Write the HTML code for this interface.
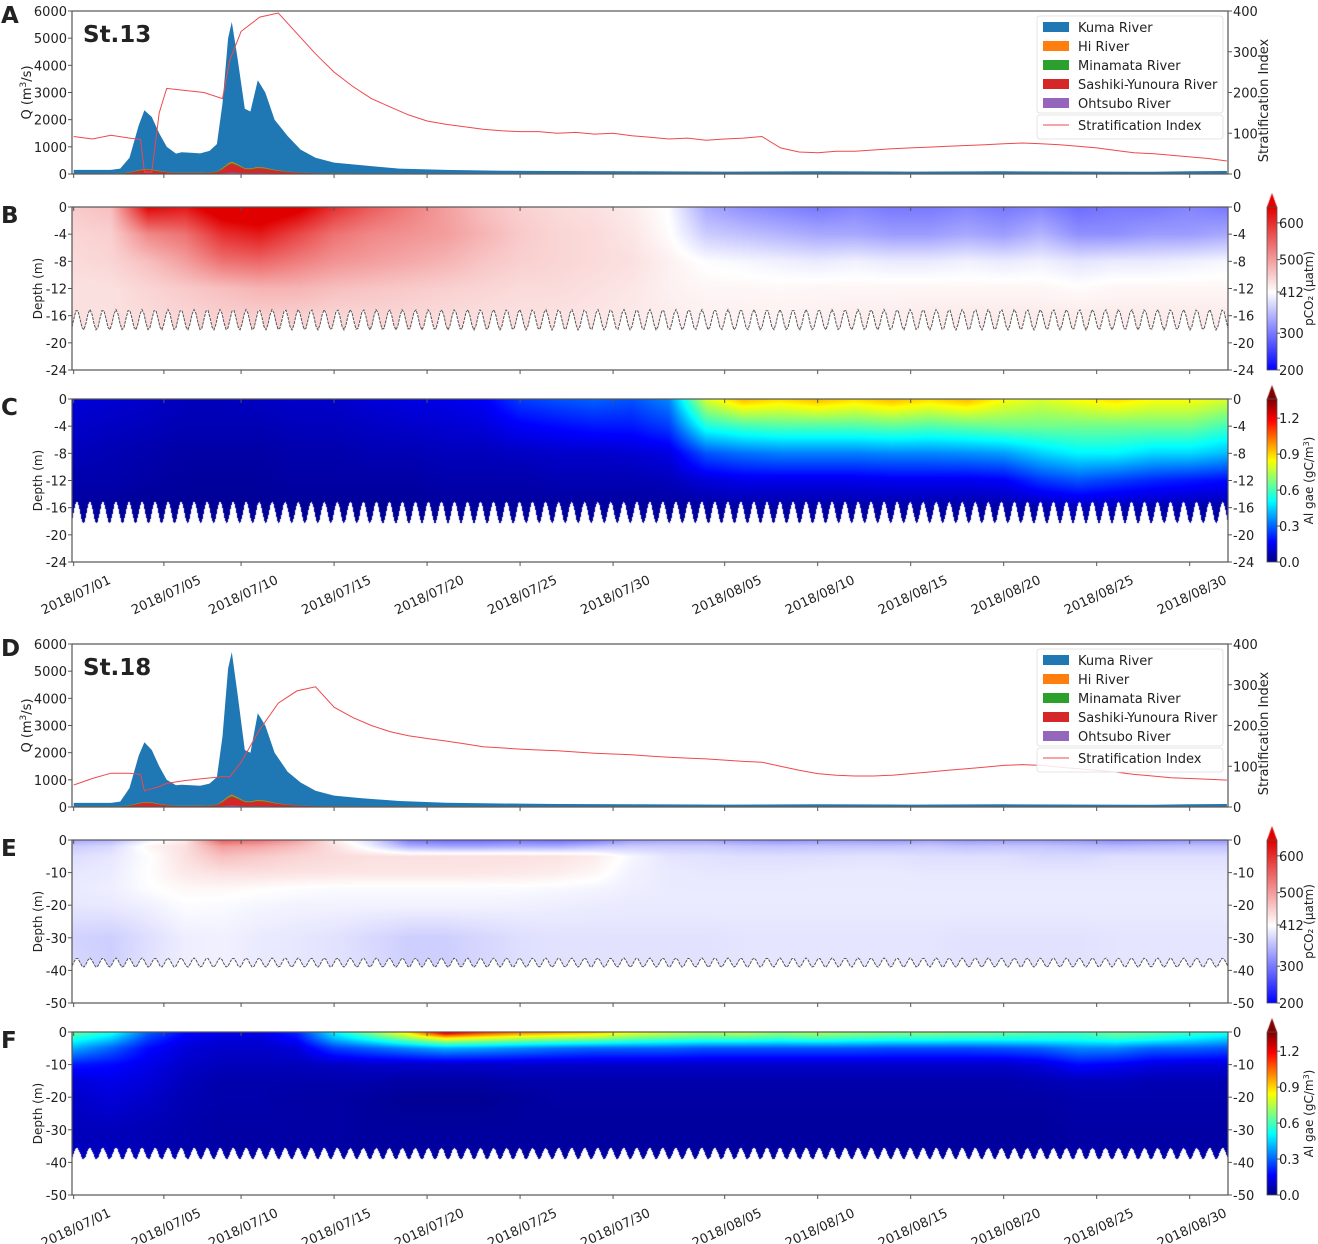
<!DOCTYPE html>
<html><head><meta charset="utf-8">
<style>
html,body{margin:0;padding:0;background:#fff;}
#wrap{position:relative;width:1318px;height:1244px;overflow:hidden;font-family:"Liberation Sans","DejaVu Sans",sans-serif;}
canvas{position:absolute;}
svg{position:absolute;left:0;top:0;}
text{font-family:"DejaVu Sans","Liberation Sans",sans-serif;fill:#222;}
</style></head>
<body>
<div id="wrap">
<canvas id="cB" width="1156" height="163" style="left:72px;top:207px"></canvas>
<canvas id="cC" width="1156" height="163" style="left:72px;top:399px"></canvas>
<canvas id="cE" width="1156" height="163" style="left:72px;top:840px"></canvas>
<canvas id="cF" width="1156" height="163" style="left:72px;top:1032px"></canvas>
<canvas id="cbB" width="10" height="180" style="left:1267px;top:190px"></canvas>
<canvas id="cbC" width="10" height="180" style="left:1267px;top:382px"></canvas>
<canvas id="cbE" width="10" height="180" style="left:1267px;top:823px"></canvas>
<canvas id="cbF" width="10" height="180" style="left:1267px;top:1015px"></canvas>
<svg id="svg" width="1318" height="1244"></svg>
</div>
<script>
// ---------- DATA ----------
const qDays = [0,1,2,2.5,3,3.5,3.8,4.2,4.6,5,5.5,5.8,6.3,6.8,7.3,7.7,8,8.3,8.5,8.8,9.2,9.5,9.9,10.3,10.8,11.5,12.2,13,14,15.5,17.5,20,23,26,30,35,40,45,50,55,58,60,62];
const kumaA = [150,150,150,200,600,1800,2350,2100,1500,1000,750,800,780,760,850,1100,2600,5000,5600,4300,2400,2300,3450,3000,2000,1400,900,600,420,320,200,150,120,110,100,90,100,90,100,90,80,100,110];
const kumaD = [150,150,150,200,700,1900,2380,2100,1500,1000,800,820,800,780,860,1100,2600,5100,5700,4200,2100,2000,3450,3000,2000,1300,900,600,420,320,220,160,130,110,100,90,100,90,100,90,80,100,110];
const ohtsubo = [5,5,5,5,8,15,20,18,12,8,6,6,6,6,8,10,25,40,50,40,25,25,30,28,20,12,8,6,5,5,5,5,5,5,5,5,5,5,5,5,5,5,5];
const sashiki = [10,10,10,15,40,100,130,120,80,50,30,30,30,30,40,60,150,280,330,260,150,140,180,160,110,60,35,20,15,12,10,10,10,10,10,10,10,10,10,10,10,10,10];
const minamata = [3,3,3,4,8,15,20,18,12,8,5,5,5,5,6,10,25,35,40,35,20,20,25,22,15,8,5,4,3,3,3,3,3,3,3,3,3,3,3,3,3,3,3];
const hiRiver = [3,3,3,4,6,12,15,14,10,6,4,4,4,4,5,8,20,30,35,28,18,18,22,20,14,8,5,4,3,3,3,3,3,3,3,3,3,3,3,3,3,3,3];

const sDays = [0,1,2,3,3.6,3.8,4.2,4.6,5,6,7,8,8.4,9,10,11,12,13,14,15,16,17,18,19,20,21,22,23,24,25,26,27,28,29,30,31,32,33,34,35,36,37,38,39,40,41,42,43,44,45,46,47,48,49,50,51,52,53,54,55,56,57,58,59,60,61,62];
const stratA = [92,86,95,88,85,5,5,150,210,205,200,185,280,350,385,395,345,295,250,215,185,165,145,130,122,116,110,106,104,104,100,102,98,100,94,90,86,88,83,86,88,92,64,54,52,56,56,59,62,64,66,68,70,72,74,76,74,72,68,64,58,52,50,46,42,38,32];
const stratD = [54,70,83,83,80,40,45,50,58,65,70,74,74,110,190,255,285,295,245,220,200,185,175,168,162,155,148,145,142,140,138,135,132,130,128,125,122,120,118,115,112,110,100,90,82,78,76,76,78,82,86,90,94,98,102,104,102,98,94,90,86,80,76,72,70,68,66];

const hmDays = [0,2,4,6,8,10,12,14,16,18,20,22,24,26,28,30,32,34,36,38,40,42,44,46,48,50,52,54,56,58,60,62];
const depthB = [0,-4,-8,-12,-16,-20];
const pco2B = [
 [460,470,640,620,680,690,660,600,560,530,500,470,455,445,440,430,410,340,320,310,300,310,300,300,310,300,310,290,300,300,310,300],
 [450,455,520,540,600,620,580,540,520,510,500,480,460,450,445,435,415,370,360,350,340,340,330,330,340,330,350,320,320,330,330,340],
 [445,450,470,500,540,550,530,510,500,490,480,465,455,450,445,440,425,410,405,400,395,400,395,395,400,395,400,390,395,395,400,405],
 [440,440,450,460,470,480,480,470,465,460,455,450,445,445,440,435,425,420,420,418,420,420,420,420,420,420,420,415,420,420,420,420],
 [440,440,445,450,455,455,455,450,450,448,445,442,440,438,435,432,428,425,425,425,425,428,428,430,430,430,430,430,430,430,430,430],
 [440,440,445,450,455,455,455,450,450,448,445,442,440,438,435,432,428,425,425,425,425,428,428,430,430,430,430,430,430,430,430,430]];
const algaeC = [
 [0.12,0.11,0.1,0.08,0.08,0.09,0.1,0.1,0.12,0.13,0.14,0.16,0.25,0.28,0.3,0.28,0.35,0.8,0.95,0.9,0.95,0.9,0.95,0.9,0.95,0.85,0.8,0.85,0.9,0.85,0.85,0.8],
 [0.1,0.09,0.08,0.07,0.07,0.07,0.08,0.08,0.09,0.1,0.11,0.12,0.16,0.18,0.2,0.2,0.25,0.55,0.6,0.62,0.62,0.62,0.64,0.62,0.64,0.66,0.66,0.66,0.66,0.66,0.66,0.6],
 [0.08,0.07,0.06,0.05,0.05,0.05,0.06,0.06,0.07,0.07,0.08,0.08,0.09,0.1,0.1,0.11,0.13,0.28,0.32,0.34,0.34,0.34,0.35,0.35,0.36,0.38,0.45,0.5,0.5,0.46,0.46,0.42],
 [0.06,0.06,0.05,0.04,0.04,0.04,0.05,0.05,0.05,0.05,0.06,0.06,0.06,0.07,0.07,0.07,0.08,0.12,0.14,0.14,0.14,0.14,0.15,0.15,0.15,0.16,0.24,0.28,0.25,0.22,0.2,0.18],
 [0.04,0.04,0.03,0.03,0.03,0.03,0.03,0.03,0.03,0.03,0.04,0.04,0.04,0.04,0.04,0.04,0.04,0.04,0.05,0.05,0.05,0.05,0.05,0.05,0.05,0.05,0.06,0.08,0.07,0.06,0.06,0.05],
 [0.02,0.02,0.02,0.02,0.02,0.02,0.02,0.02,0.02,0.02,0.02,0.02,0.02,0.02,0.02,0.02,0.02,0.02,0.02,0.02,0.02,0.02,0.02,0.02,0.02,0.02,0.02,0.02,0.02,0.02,0.02,0.02]];
const depthE = [0,-2,-5,-10,-15,-20,-30,-40];
const pco2E = [
 [340,350,400,430,560,540,500,430,380,300,290,290,295,290,300,330,335,335,325,320,325,330,325,335,325,330,330,325,315,320,325,325],
 [370,380,420,440,500,490,470,440,400,350,340,340,345,345,360,370,370,370,365,362,365,365,365,368,362,365,365,360,355,360,362,362],
 [385,392,410,440,470,460,450,445,440,440,440,440,440,438,430,405,390,388,385,385,385,388,388,385,385,385,380,380,385,385,385,385],
 [392,396,412,432,440,440,438,436,435,435,435,434,432,428,420,400,395,392,392,392,394,394,394,392,392,392,392,392,392,392,392,392],
 [395,398,410,418,418,414,410,408,408,408,408,408,408,406,403,398,395,395,395,395,395,395,395,395,395,395,395,395,395,395,395,395],
 [392,394,400,410,408,404,402,402,402,402,402,402,400,398,396,395,395,395,395,395,395,395,395,395,395,395,395,395,395,395,395,395],
 [375,372,385,398,400,395,392,388,380,372,372,378,385,388,388,388,388,388,390,390,390,390,390,390,388,388,388,388,390,390,390,390],
 [380,372,388,398,400,395,392,388,382,372,372,378,385,388,388,388,388,388,390,390,390,390,390,390,388,388,388,388,390,390,390,390]];
const algaeF = [
 [0.65,0.55,0.3,0.18,0.15,0.15,0.22,0.5,0.7,0.9,1.3,1.15,1.05,1.0,0.95,0.85,0.8,0.75,0.78,0.72,0.75,0.72,0.7,0.7,0.68,0.66,0.62,0.6,0.66,0.64,0.6,0.55],
 [0.55,0.45,0.25,0.15,0.12,0.12,0.18,0.42,0.55,0.7,0.85,0.8,0.75,0.72,0.7,0.65,0.62,0.6,0.6,0.58,0.6,0.58,0.56,0.56,0.55,0.55,0.55,0.55,0.58,0.55,0.5,0.45],
 [0.4,0.3,0.18,0.12,0.1,0.1,0.12,0.25,0.3,0.35,0.4,0.38,0.35,0.32,0.3,0.3,0.3,0.28,0.28,0.28,0.28,0.28,0.27,0.27,0.27,0.28,0.3,0.35,0.35,0.3,0.3,0.28],
 [0.2,0.18,0.14,0.1,0.08,0.08,0.08,0.09,0.1,0.1,0.1,0.1,0.1,0.1,0.1,0.1,0.1,0.1,0.1,0.1,0.1,0.1,0.1,0.1,0.1,0.1,0.12,0.18,0.16,0.13,0.12,0.12],
 [0.12,0.14,0.12,0.08,0.06,0.06,0.06,0.06,0.06,0.05,0.05,0.05,0.06,0.06,0.06,0.06,0.06,0.06,0.06,0.06,0.06,0.06,0.06,0.06,0.06,0.06,0.07,0.08,0.08,0.07,0.07,0.07],
 [0.1,0.12,0.1,0.07,0.06,0.06,0.05,0.05,0.04,0.03,0.03,0.03,0.04,0.05,0.05,0.05,0.05,0.05,0.05,0.05,0.05,0.05,0.05,0.05,0.05,0.05,0.05,0.06,0.06,0.06,0.06,0.06],
 [0.08,0.08,0.07,0.06,0.05,0.05,0.05,0.05,0.04,0.04,0.04,0.04,0.04,0.04,0.04,0.04,0.04,0.04,0.04,0.04,0.04,0.04,0.04,0.04,0.04,0.04,0.04,0.05,0.05,0.05,0.05,0.05],
 [0.08,0.08,0.07,0.06,0.05,0.05,0.05,0.05,0.04,0.04,0.04,0.04,0.04,0.04,0.04,0.04,0.04,0.04,0.04,0.04,0.04,0.04,0.04,0.04,0.04,0.04,0.04,0.05,0.05,0.05,0.05,0.05]];

const tickDays = [0,4.85,9,14,19,24,29,35,40,45,50,55,60];
const tickLabels = ["2018/07/01","2018/07/05","2018/07/10","2018/07/15","2018/07/20","2018/07/25","2018/07/30","2018/08/05","2018/08/10","2018/08/15","2018/08/20","2018/08/25","2018/08/30"];
const qTicks = [0,1000,2000,3000,4000,5000,6000];
const sTicks = [0,100,200,300,400];
const depthTicks24 = [0,-4,-8,-12,-16,-20,-24];
const depthTicks50 = [0,-10,-20,-30,-40,-50];
const pco2CbTicks = [200,300,412,500,600];
const algaeCbTicks = [0.0,0.3,0.6,0.9,1.2];

// ---------- SCALES ----------
const X0=72, X1=1228, DMIN=-0.09, DMAX=62.06, H=163;
const xs = d => X0 + (d-DMIN)/(DMAX-DMIN)*(X1-X0);
const NS='http://www.w3.org/2000/svg';
const svg=document.getElementById('svg');
function el(tag, attrs, parent){const e=document.createElementNS(NS,tag);for(const k in attrs)e.setAttribute(k,attrs[k]);(parent||svg).appendChild(e);return e;}
function txt(x,y,s,attrs,parent){const t=el('text',Object.assign({x:x,y:y,'font-size':13},attrs||{}),parent);t.textContent=s;return t;}

function bwr(v){ if(v<412){const t=Math.min(1,(412-v)/212);return [255-255*t,255-255*t,255];}
 const t=Math.min(1,(v-412)/231);return [255-30*t,255-255*t,255-255*t];}
function jet(v){const t=Math.max(0,Math.min(1,v/1.36));const c=x=>Math.max(0,Math.min(1,1.5-Math.abs(x)))*255;
 return [c(4*t-3),c(4*t-2),c(4*t-1)];}

function interp(arr,days,dv){let i=0;while(i<days.length-2&&dv>days[i+1])i++;
 const t=Math.max(0,Math.min(1,(dv-days[i])/(days[i+1]-days[i])));return arr[i]*(1-t)+arr[i+1]*t;}

function seabed(d,base,amp){return base+amp*Math.sin(2*Math.PI*d/0.7);}

function heat(id,grid,depths,maxDepth,cmap,bedBase,bedAmp){
 const cv=document.getElementById(id),ctx=cv.getContext('2d');
 const img=ctx.createImageData(cv.width,cv.height);
 for(let px=0;px<cv.width;px++){
  const d=DMIN+(px+0.5)/cv.width*(DMAX-DMIN);
  const col=grid.map(r=>interp(r,hmDays,d));
  const bed=seabed(d,bedBase,bedAmp);
  for(let py=0;py<cv.height;py++){
   const z=-(py+0.5)/cv.height*maxDepth;
   let rgb=[255,255,255];
   if(z>bed){let j=0;while(j<depths.length-2&&z<depths[j+1])j++;
    const t=Math.max(0,Math.min(1,(depths[j]-z)/(depths[j]-depths[j+1])));
    rgb=cmap(col[j]*(1-t)+col[j+1]*t);}
   const k=(py*cv.width+px)*4;img.data[k]=rgb[0];img.data[k+1]=rgb[1];img.data[k+2]=rgb[2];img.data[k+3]=255;}
 }
 ctx.putImageData(img,0,0);
}
heat('cB',pco2B,depthB,24,bwr,-16.6,1.5);
heat('cC',algaeC,depthB,24,jet,-16.7,1.55);
heat('cE',pco2E,depthE,50,bwr,-37.6,1.4);
heat('cF',algaeF,depthE,50,jet,-37.3,1.7);

function pco2FromY(f){const yy=f*163; if(yy>85) return 412-(yy-85)/78*212; return 412+(85-yy)/85*231;}
function cbar(id,valFn,cmap){const cv=document.getElementById(id),ctx=cv.getContext('2d');
 for(let y=0;y<163;y++){const c=cmap(valFn(y/163));ctx.fillStyle=`rgb(${c[0]|0},${c[1]|0},${c[2]|0})`;ctx.fillRect(0,17+y,10,1);}
 const top=cmap(valFn(0));ctx.fillStyle=`rgb(${top[0]|0},${top[1]|0},${top[2]|0})`;
 ctx.beginPath();ctx.moveTo(0,17);ctx.lineTo(5,3);ctx.lineTo(10,17);ctx.closePath();ctx.fill();}
cbar('cbB',pco2FromY,bwr);cbar('cbE',pco2FromY,bwr);
cbar('cbC',f=>(1-f)*1.36,jet);cbar('cbF',f=>(1-f)*1.36,jet);

// ---------- DISCHARGE PANELS ----------
function dischargePanel(top,kuma,strat,station,letter,pname){
 const g=el('g',{});
 
 
 const yq=v=>top+H-v/6000*H, ysI=v=>top+H-v/400*H;
 let p='M'+xs(qDays[0])+','+yq(0);
 qDays.forEach((d,i)=>p+=' L'+xs(d).toFixed(1)+','+yq(kuma[i]).toFixed(1));
 p+=' L'+xs(qDays[qDays.length-1])+','+yq(0)+'Z';
 const ka=el('path',{d:p,fill:'#1f77b4'},g);
 
 
 const stack=[[ohtsubo,'#9467bd','ohtsubo-river-area'],[sashiki,'#d62728','sashiki-yunoura-river-area'],[minamata,'#2ca02c','minamata-river-area'],[hiRiver,'#ff7f0e','hi-river-area']];
 let base=qDays.map(()=>0);
 const layers=[];
 stack.forEach(([arr,c,n])=>{const nb=base.map((b,i)=>b+arr[i]);layers.push([base,nb,c,n]);base=nb;});
 layers.reverse().forEach(([lo,hi,c,n])=>{
  let d='M'+xs(qDays[0])+','+yq(0);
  qDays.forEach((dd,i)=>d+=' L'+xs(dd).toFixed(1)+','+yq(hi[i]).toFixed(1));
  d+=' L'+xs(qDays[qDays.length-1])+','+yq(0)+'Z';
  const a=el('path',{d:d,fill:c},g);
  
  
 });
 let sp='';sDays.forEach((d,i)=>sp+=(i?' L':'M')+xs(d).toFixed(1)+','+ysI(strat[i]).toFixed(1));
 const sl=el('path',{d:sp,fill:'none',stroke:'#f0484c','stroke-width':1},g);
 
 
 el('rect',{x:X0,y:top,width:X1-X0,height:H,fill:'none',stroke:'#555','stroke-width':1.2},g);
 qTicks.forEach(v=>{el('line',{x1:X0-4,x2:X0,y1:yq(v),y2:yq(v),stroke:'#555'},g);
  const t=txt(X0-5,yq(v)+5,String(v),{'text-anchor':'end'},g);
  
  });
 sTicks.forEach(v=>{el('line',{x1:X1,x2:X1+4,y1:ysI(v),y2:ysI(v),stroke:'#555'},g);
  const t=txt(X1+5,ysI(v)+5,String(v),{},g);
  
  });
 tickDays.forEach(d=>el('line',{x1:xs(d),x2:xs(d),y1:top+H,y2:top+H+4,stroke:'#555'},g));
 const yt=txt(31,top+H/2,'',{'text-anchor':'middle',transform:`rotate(-90 31 ${top+H/2})`},g);
 yt.innerHTML='Q (m<tspan baseline-shift="super" font-size="9">3</tspan>/s)';
 
 
 const rt=txt(1268,top+H/2+8,'Stratification Index',{'text-anchor':'middle',transform:`rotate(-90 1268 ${top+H/2+8})`},g);
 
 
 const st=txt(83,top+31,station,{'font-size':23,'font-weight':'bold',fill:'#000'},g);
 
 
 const pl=txt(1,top+12,letter,{'font-size':23,'font-weight':'bold',fill:'#000'},g);
 
 
 const lg=el('g',{},g);
 
 
 el('rect',{x:1037,y:top+5,width:186,height:97,fill:'#fff','fill-opacity':0.85,stroke:'#e4e4e4',rx:3},lg);
 el('rect',{x:1037,y:top+104,width:186,height:24,fill:'#fff','fill-opacity':0.85,stroke:'#e4e4e4',rx:3},lg);
 const items=[['Kuma River','#1f77b4'],['Hi River','#ff7f0e'],['Minamata River','#2ca02c'],['Sashiki-Yunoura River','#d62728'],['Ohtsubo River','#9467bd']];
 items.forEach(([n,c],i)=>{const yy=top+16+i*19;
  const e=el('g',{},lg);
  
  
  el('rect',{x:1043,y:yy-5,width:26,height:10,fill:c},e);
  txt(1078,yy+5,n,{},e);});
 const e=el('g',{},lg);
 
 
 el('line',{x1:1043,x2:1069,y1:top+114,y2:top+114,stroke:'#f0484c'},e);
 txt(1078,top+119,'Stratification Index',{},e);
}
dischargePanel(11,kumaA,stratA,'St.13','A','panel-a-discharge-st13');
dischargePanel(644,kumaD,stratD,'St.18','D','panel-d-discharge-st18');

// ---------- HEATMAP FRAMES ----------
function heatFrame(top,maxDepth,ticks,letter,pname,isPco2,bedBase,bedAmp,dashed,dateLabels){
 const g=el('g',{});
 
 
 const yd=v=>top-v/maxDepth*H;
 if(dashed){let p='';for(let px=0;px<=X1-X0;px+=2){const d=DMIN+px/(X1-X0)*(DMAX-DMIN);p+=(px?' L':'M')+(X0+px)+','+yd(seabed(d,bedBase,bedAmp)).toFixed(1);}
  const s=el('path',{d:p,fill:'none',stroke:'#555','stroke-width':1,'stroke-dasharray':'3,1'},g);
  
  }
 el('rect',{x:X0,y:top,width:X1-X0,height:H,fill:'none',stroke:'#555','stroke-width':1.2},g);
 ticks.forEach(v=>{el('line',{x1:X0-4,x2:X0,y1:yd(v),y2:yd(v),stroke:'#555'},g);
  el('line',{x1:X1,x2:X1+4,y1:yd(v),y2:yd(v),stroke:'#555'},g);
  const a=txt(X0-5,yd(v)+5,String(v),{'text-anchor':'end'},g);
  
  
  const b=txt(X1+5,yd(v)+5,String(v),{},g);
  
  });
 tickDays.forEach(d=>{el('line',{x1:xs(d),x2:xs(d),y1:top+H,y2:top+H+4,stroke:'#555'},g);
  el('line',{x1:xs(d),x2:xs(d),y1:top,y2:top+4,stroke:'#555'},g);});
 if(dateLabels){tickDays.forEach((d,i)=>{const x=xs(d)+38,y=top+H+21;
  const t=txt(x,y,tickLabels[i],{'text-anchor':'end',transform:`rotate(-25 ${x} ${y})`},g);
  
  });}
 const yt=txt(42,top+H/2,'Depth  (m)',{'text-anchor':'middle','font-size':12,transform:`rotate(-90 42 ${top+H/2})`},g);
 
 
 const pl=txt(1,top+16,letter,{'font-size':23,'font-weight':'bold',fill:'#000'},g);
 
 
 const cb=el('g',{},g);
 
 
 el('rect',{x:1267,y:top,width:10,height:H,fill:'none',stroke:'#555','stroke-width':0.8},cb);
 if(isPco2){pco2CbTicks.forEach(v=>{const y=v<412?top+85+(412-v)/212*78:top+85-(v-412)/231*85;
   el('line',{x1:1277,x2:1280,y1:y,y2:y,stroke:'#555'},cb);txt(1279,y+5,String(v),{},cb);});
  const lt=txt(1313,top+H/2,'pCO₂ (μatm)',{'text-anchor':'middle','font-size':12,transform:`rotate(-90 1313 ${top+H/2})`},cb);
  
  }
 else{algaeCbTicks.forEach(v=>{const y=top+H-v/1.36*H;
   el('line',{x1:1277,x2:1280,y1:y,y2:y,stroke:'#555'},cb);txt(1279,y+5,v.toFixed(1),{},cb);});
  const lt=txt(1313,top+H/2,'',{'text-anchor':'middle','font-size':12,transform:`rotate(-90 1313 ${top+H/2})`},cb);
  lt.innerHTML='Al gae (gC/m<tspan baseline-shift="super" font-size="8">3</tspan>)';
  
  }
}
heatFrame(207,24,depthTicks24,'B','panel-b-pco2-st13',true,-16.6,1.5,true,false);
heatFrame(399,24,depthTicks24,'C','panel-c-algae-st13',false,-16.7,1.55,false,true);
heatFrame(840,50,depthTicks50,'E','panel-e-pco2-st18',true,-37.6,1.4,true,false);
heatFrame(1032,50,depthTicks50,'F','panel-f-algae-st18',false,-37.3,1.7,false,true);
</script>
</body></html>
